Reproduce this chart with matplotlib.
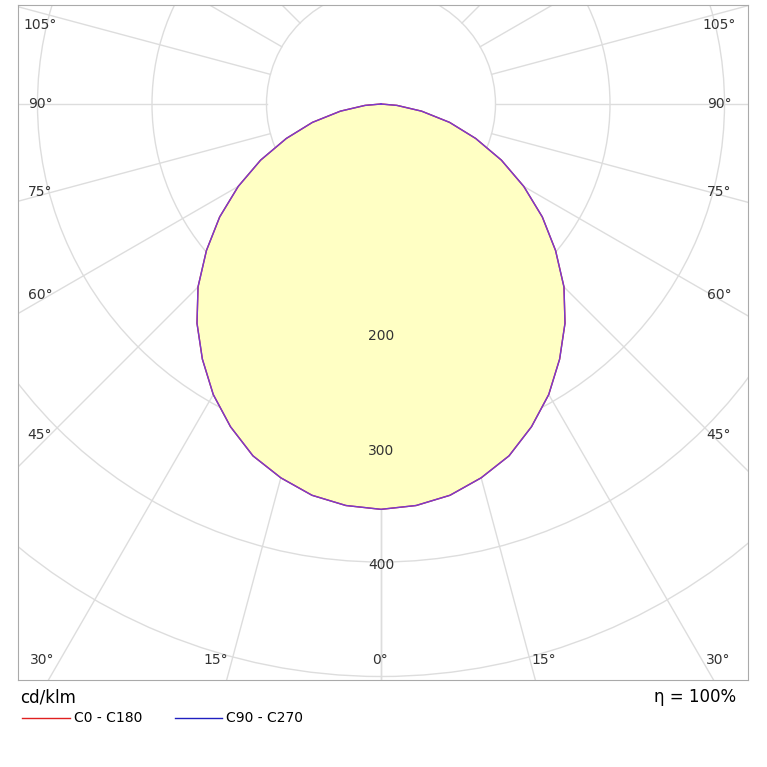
import numpy as np
import matplotlib.pyplot as plt
from matplotlib.patches import Circle

angles_deg = [0, 5, 10, 15, 20, 25, 30, 35, 40, 45, 50, 55, 60, 65, 70, 75, 80, 85, 90]
c0_c180 = [354, 352, 347, 338, 327, 311, 293, 272, 250, 226, 199, 172, 144, 116, 88, 62, 36, 14, 0]
c90_c270 = [354, 352, 347, 338, 327, 311, 293, 272, 250, 226, 199, 172, 144, 116, 88, 62, 36, 14, 0]
ring_values = [100, 200, 300, 400, 500, 600, 700]
ring_labels = [200, 300, 400]
side_labels = ['105°', '90°', '75°', '60°', '45°']
bottom_labels = ['30°', '15°', '0°']

W = H = 767
fig = plt.figure(figsize=(7.67, 7.67), dpi=100)
px = lambda x, y: [x / W, 1 - y / H]
x0, x1, y0, y1 = 18, 748, 5, 680
ax = fig.add_axes([x0 / W, 1 - y1 / H, (x1 - x0) / W, (y1 - y0) / H])
s = 1.145
ox, oy = 381, 104
ax.set_xlim((x0 - ox) / s, (x1 - ox) / s)
ax.set_ylim(-(y1 - oy) / s, (oy - y0) / s)
ax.set_xticks([]); ax.set_yticks([])
for sp in ax.spines.values():
    sp.set_color('#aaaaaa')
grid = '#dddddd'
for r in ring_values:
    ax.add_patch(Circle((0, 0), r, fill=False, ec=grid, lw=1, zorder=1))
for a in range(0, 181, 15):
    t = np.radians(a)
    for sg in (1, -1):
        ax.plot([sg * 100 * np.sin(t), sg * 900 * np.sin(t)],
                [-100 * np.cos(t), -900 * np.cos(t)], color=grid, lw=1, zorder=1)

def curve(vals):
    th = np.radians(np.array(angles_deg, float))
    v = np.array(vals, float)
    th_full = np.concatenate([-th[::-1], th[1:]])
    v_full = np.concatenate([v[::-1], v[1:]])
    return v_full * np.sin(th_full), -v_full * np.cos(th_full)

xa, ya = curve(c0_c180)
xb, yb = curve(c90_c270)
ax.fill(xa, ya, color='#ffffc4', zorder=2)
ax.plot(xa, ya, color='#d03030', lw=1, zorder=3)
ax.plot(xb, yb, color='#7a3ad0', lw=1, zorder=4)

for r in ring_labels:
    ax.text(0, -r - 3, str(r), ha='center', va='center', fontsize=10, color='#333333', zorder=5)

side_y = [25, 104, 192, 295, 435]
for lab, y in zip(side_labels, side_y):
    fig.text(*px(40, y), lab, ha='center', va='center', fontsize=10, color='#333333')
    fig.text(*px(719, y), lab, ha='center', va='center', fontsize=10, color='#333333')
bottom_x = [42, 216, 380, 544, 718]
for lab, x in zip(bottom_labels + bottom_labels[1::-1], bottom_x):
    fig.text(*px(x, 660), lab, ha='center', va='center', fontsize=10, color='#333333')

fig.text(*px(20, 697), 'cd/klm', fontsize=12, va='center', ha='left')
fig.text(*px(736, 697), 'η = 100%', fontsize=12, va='center', ha='right')
fig.add_artist(plt.Line2D([22 / W, 70 / W], [1 - 718 / H] * 2, color='#e02020', lw=1))
fig.text(*px(74, 718), 'C0 - C180', fontsize=10, va='center')
fig.add_artist(plt.Line2D([175 / W, 222 / W], [1 - 718 / H] * 2, color='#2020c0', lw=1))
fig.text(*px(226, 718), 'C90 - C270', fontsize=10, va='center')
fig.savefig('out.png', dpi=100)
